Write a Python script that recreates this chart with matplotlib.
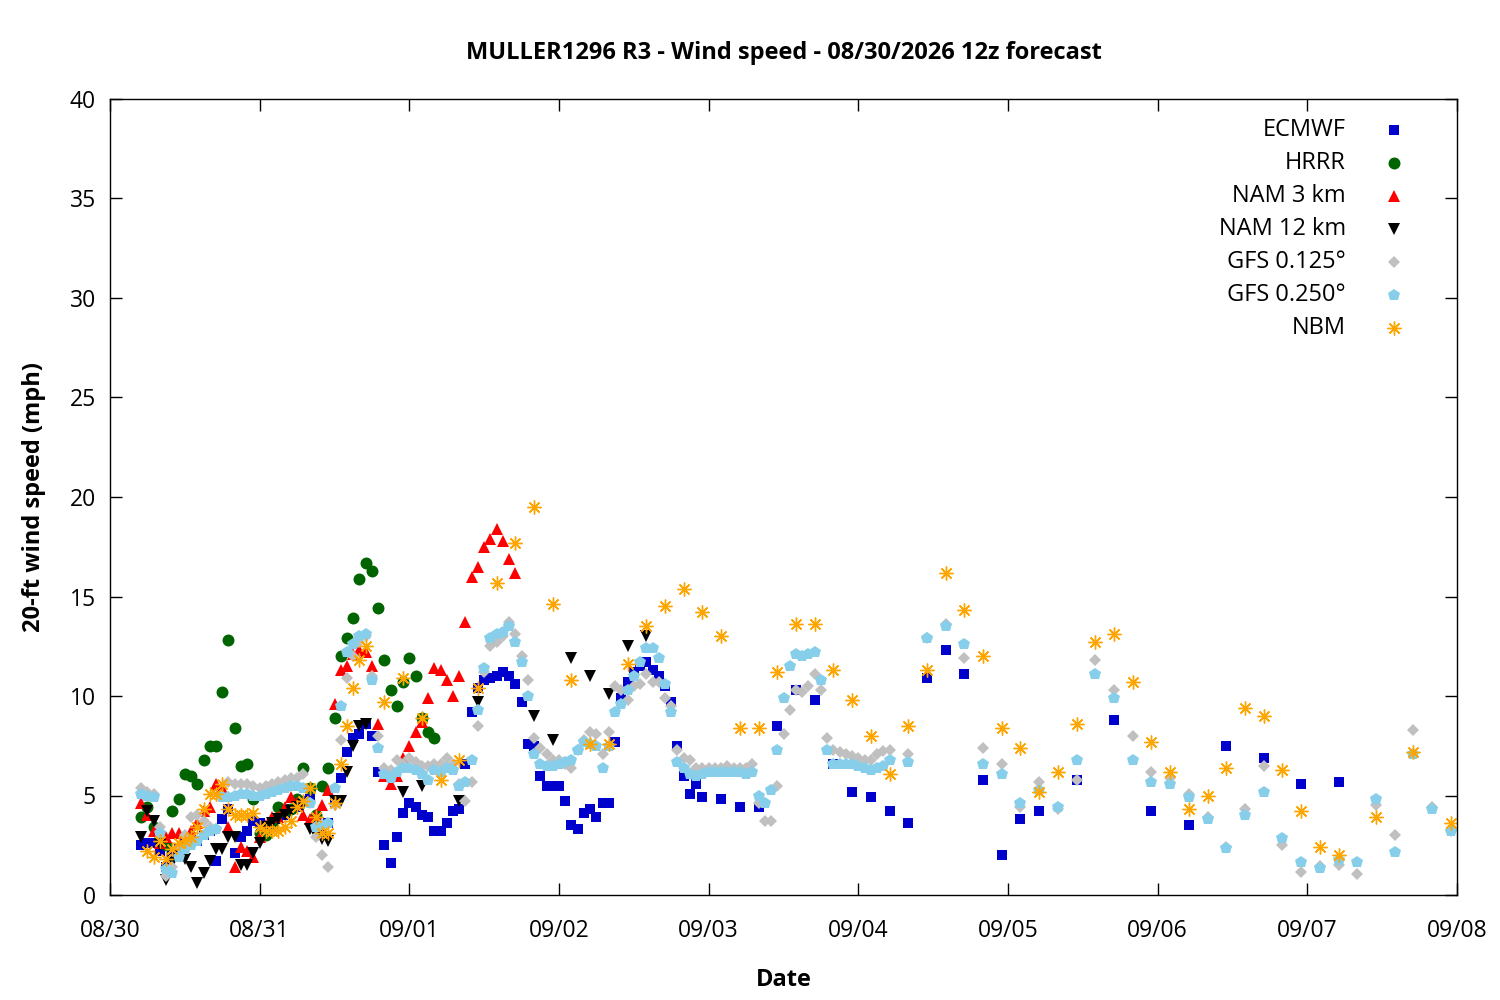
import numpy as np
import matplotlib
matplotlib.use("Agg")
import matplotlib.pyplot as plt

plt.rcParams['font.family'] = ['Open Sans', 'DejaVu Sans']

# forecast valid times, hours after 08/30 00:00 local
day_ticks = [0, 24, 48, 72, 96, 120, 144, 168, 192, 216]
day_labels = ["08/30", "08/31", "09/01", "09/02", "09/03", "09/04",
              "09/05", "09/06", "09/07", "09/08"]

ecmwf_h = list(range(5, 96)) + list(range(98, 150, 3)) + list(range(155, 198, 6))
ecmwf = [2.5, 2.6, 2.6, 2.2, 1.4, 2.0, 2.3, 2.6, 2.8, 2.7, 3.0, 3.2, 1.7, 3.8, 4.3,
         2.1, 2.9, 3.2, 3.7, 3.6, 3.4, 3.6, 3.8, 4.0, 4.3, 4.4, 4.7, 4.8, 3.5, 3.2, 3.6,
         4.6, 5.9, 7.2, 7.9, 8.1, 8.6, 8.0, 6.2, 2.5, 1.6,
         2.9, 4.1, 4.6, 4.4, 4.0, 3.9, 3.2, 3.2, 3.6, 4.2,
         4.3, 6.6, 9.2, 10.4, 10.8, 10.9, 11.0, 11.2, 11.0, 10.6,
         9.7, 7.6, 7.5, 6.0, 5.5, 5.5, 5.5, 4.7, 3.5, 3.3,
         4.1, 4.3, 3.9, 4.6, 4.6, 7.7, 9.9, 10.7, 11.2, 11.5,
         11.7, 11.3, 11.0, 10.5, 9.7, 7.5, 6.0, 5.1, 5.6, 4.9,
         4.8, 4.4, 4.4, 8.5, 10.3, 9.8, 6.6, 5.2, 4.9, 4.2, 3.6, 10.9, 12.3, 11.1,
         5.8, 2.0, 3.8, 4.2,
         5.8, 8.8, 4.2, 3.5, 7.5, 6.9, 5.6, 5.7]

hrrr_h = list(range(5, 53))
hrrr = [3.9, 4.4, 3.4, 2.9, 2.5, 4.2, 4.8, 6.1, 6.0, 5.6,
        6.8, 7.5, 7.5, 10.2, 12.8, 8.4, 6.5, 6.6, 4.8, 3.1,
        3.0, 3.5, 4.4, 4.2, 4.3, 4.8, 6.4, 5.4, 4.0, 5.5,
        6.4, 8.9, 12.0, 12.9, 13.9, 15.9, 16.7, 16.3, 14.4, 11.8,
        10.3, 9.5, 10.7, 11.9, 11.0, 8.9, 8.2, 7.9]

nam3_h = list(range(5, 66))
nam3 = [4.6, 4.0, 3.2, 2.6, 2.9, 3.1, 3.1, 2.8, 3.2, 3.6,
        4.2, 4.4, 5.6, 5.4, 3.4, 1.4, 2.4, 2.2, 1.9, 2.9,
        3.5, 3.9, 3.9, 4.4, 4.9, 4.6, 4.0, 3.8, 4.0, 4.5,
        5.3, 9.6, 11.3, 11.5, 12.1, 12.3, 12.2, 11.5, 8.6, 6.0,
        5.6, 6.0, 6.9, 7.5, 8.2, 8.7, 9.9, 11.4, 11.3, 10.8,
        10.0, 11.0, 13.7, 16.0, 16.5, 17.5, 17.9, 18.4, 17.8, 16.9,
        16.2]

nam12_h = list(range(5, 42)) + list(range(44, 87, 3))
nam12 = [2.9, 4.2, 3.7, 2.5, 0.75, 1.6, 2.1, 1.8, 1.4, 0.6,
         1.1, 1.7, 2.3, 2.3, 2.9, 2.9, 1.5, 1.5, 2.1, 2.6,
         3.4, 3.6, 3.8, 4.0, 4.2, 4.4, 4.5, 3.3, 3.0, 2.8,
         2.7, 4.7, 4.7, 6.2, 7.5, 8.5, 8.6,
         np.nan, 5.2, 5.5, np.nan, 4.7, 9.7, np.nan, np.nan, 9.0, 7.8,
         11.9, 11.0, 10.1, 12.5, 13.0]

gfs_h = list(range(5, 126)) + list(range(128, 216, 3))
gfs0125 = [5.4, 5.2, 5.1, 3.4, 0.95, 1.4, 2.4, 3.0, 3.9, 4.0,
           3.7, 3.4, 3.3, 5.0, 5.7, 5.6, 5.6, 5.6, 5.5, 5.4,
           5.5, 5.6, 5.7, 5.8, 5.9, 5.9, 6.1, 4.6, 2.9, 2.0,
           1.4, 4.5, 7.8, 10.9, 12.0, 12.7, 13.0, 11.0, 8.0, 6.4,
           6.3, 6.8, 6.6, 6.9, 6.7, 6.5, 6.5, 6.6, 6.6, 6.9,
           6.6, 5.6, 4.7, 5.7, 8.5, 11.2, 12.5, 12.7, 13.0, 13.7,
           13.1, 12.0, 10.8, 7.9, 7.4, 7.1, 6.8, 6.8, 6.6, 6.4,
           7.3, 7.8, 8.2, 8.1, 7.1, 8.2, 10.5, 10.3, 9.8, 10.5,
           10.6, 11.1, 10.7, 10.7, 9.9, 9.5, 7.3, 6.9, 6.8, 6.4,
           6.4, 6.4, 6.4, 6.4, 6.5, 6.4, 6.4, 6.4, 6.6, 4.6,
           3.7, 3.7, 5.5, 8.1, 9.3, 10.3, 10.2, 10.5, 11.1, 10.3,
           7.9, 7.3, 7.2, 7.1, 7.0, 6.9, 6.8, 6.8, 7.1, 7.25,
           7.3,
           7.1, 12.9, 13.6, 11.9, 7.4, 6.6, 4.4, 5.7, 4.3, 5.8,
           11.8, 10.3, 8.0, 6.2, 5.9, 5.1, 3.9, 2.4, 4.3, 6.5,
           2.5, 1.15, 1.45, 1.5, 1.05, 4.5, 3.0, 8.3, 4.4, 3.2]
gfs0250 = [5.1, 5.0, 4.9, 3.1, 1.3, 1.1, 1.9, 2.3, 2.5, 2.7,
           3.0, 3.2, 3.3, 4.9, 4.9, 5.0, 5.1, 5.1, 5.0, 5.0,
           5.1, 5.2, 5.3, 5.4, 5.5, 5.5, 5.4, 4.6, 3.4, 3.5,
           3.6, 5.4, 9.5, 12.2, 12.6, 13.0, 13.1, 10.8, 7.4, 6.1,
           5.9, 6.2, 6.4, 6.4, 6.3, 6.1, 5.8, 6.3, 6.2, 6.4,
           6.3, 5.5, 5.7, 6.8, 9.3, 11.4, 12.9, 13.1, 13.2, 13.5,
           12.7, 11.7, 10.0, 7.1, 6.6, 6.5, 6.5, 6.6, 6.7, 6.8,
           7.3, 7.7, 7.6, 7.5, 6.4, 7.5, 9.2, 9.6, 10.3, 11.0,
           11.7, 12.4, 12.4, 11.9, 10.6, 9.2, 6.7, 6.4, 6.1, 6.0,
           6.1, 6.2, 6.2, 6.2, 6.2, 6.2, 6.2, 6.1, 6.2, 5.0,
           4.6, 5.3, 7.3, 9.9, 11.5, 12.1, 12.0, 12.1, 12.2, 10.8,
           7.3, 6.6, 6.6, 6.6, 6.6, 6.5, 6.4, 6.3, 6.4, 6.5,
           6.8,
           6.7, 12.9, 13.5, 12.6, 6.6, 6.1, 4.6, 5.3, 4.4, 6.8,
           11.1, 9.9, 6.8, 5.7, 5.6, 4.9, 3.8, 2.35, 4.0, 5.2,
           2.85, 1.65, 1.35, 1.75, 1.65, 4.8, 2.15, 7.1, 4.3, 3.2]

nbm_h = list(range(6, 42)) + list(range(44, 216, 3))
nbm = [2.2, 1.9, 2.7, 1.8, 2.3, 2.6, 2.7, 2.9, 3.4, 4.3,
       5.1, 5.1, 5.6, 4.3, 4.0, 4.0, 4.0, 4.1, 3.4, 3.2,
       3.2, 3.2, 3.4, 3.7, 4.4, 4.7, 5.4, 3.9, 3.1, 3.1,
       4.6, 6.6, 8.5, 10.4, 11.8, 12.5,
       9.7, 10.9, 8.9, 5.8, 6.8, 10.4, 15.7, 17.7, 19.5, 14.6,
       10.8, 7.6, 7.6, 11.6, 13.5, 14.5, 15.4, 14.2, 13.0, 8.4,
       8.4, 11.2, 13.6, 13.6, 11.3, 9.8, 8.0, 6.1, 8.5, 11.3,
       16.2, 14.3, 12.0, 8.4, 7.4, 5.2, 6.2, 8.6, 12.7, 13.1,
       10.7, 7.7, 6.2, 4.3, 5.0, 6.4, 9.4, 9.0, 6.3, 4.2,
       2.4, 2.0, np.nan, 3.9, np.nan, 7.2, np.nan, 3.6]

series = [
    ("ECMWF", ecmwf_h, ecmwf, dict(marker='s', ms=6.5, color='#0000cc')),
    ("HRRR", hrrr_h, hrrr, dict(marker='o', ms=8.6, color='#006400')),
    ("NAM 3 km", nam3_h, nam3, dict(marker='^', ms=8.6, color='#ff0000')),
    ("NAM 12 km", nam12_h, nam12, dict(marker='v', ms=8.6, color='#000000')),
    ("GFS 0.125°", gfs_h, gfs0125, dict(marker='D', ms=6.0, color='#c0c0c0')),
    ("GFS 0.250°", gfs_h, gfs0250, dict(marker='p', ms=8.8, color='#87ceeb')),
    ("NBM", nbm_h, nbm, dict(marker=(8, 2, 0), ms=10, color='#ffa500')),
]

fig = plt.figure(figsize=(15, 10), dpi=100)
ax = fig.add_axes([110 / 1500, 105 / 1000, 1347 / 1500, 796 / 1000])

for name, hrs, vals, st in series:
    mew = 1.0 if name == "NBM" else 0
    ax.plot(hrs, vals, linestyle='none', markeredgewidth=mew,
            markeredgecolor=st['color'], **st)

# legend in gnuplot style: right-aligned text, symbol to the right
for i, (name, hrs, vals, st) in enumerate(series):
    yy = 0.9612 - i * 0.04146
    ax.text(0.9176, yy, name, transform=ax.transAxes, ha='right', va='center',
            fontsize=17)
    ax.plot([0.9532], [yy], transform=ax.transAxes, linestyle='none',
            clip_on=False, markeredgewidth=1.0 if name == "NBM" else 0,
            markeredgecolor=st['color'], **st)

ax.set_xlim(0, 216)
ax.set_ylim(0, 40)
ax.set_xticks(day_ticks)
ax.set_xticklabels(day_labels)
ax.set_yticks(range(0, 41, 5))
ax.tick_params(direction='in', length=8.5, width=1, labelsize=16.5,
               top=True, right=True)
ax.tick_params(axis='x', pad=17)
ax.tick_params(axis='y', pad=10)
for sp in ax.spines.values():
    sp.set_linewidth(1)

ax.set_xlabel("Date", fontsize=17, fontweight='bold', labelpad=18)
ax.set_ylabel("20-ft wind speed (mph)", fontsize=17, fontweight='bold', labelpad=17)
ax.set_title("MULLER1296 R3 - Wind speed - 08/30/2026 12z forecast",
             fontsize=17, fontweight='bold', pad=28.5)

fig.savefig("out.png", dpi=100)
